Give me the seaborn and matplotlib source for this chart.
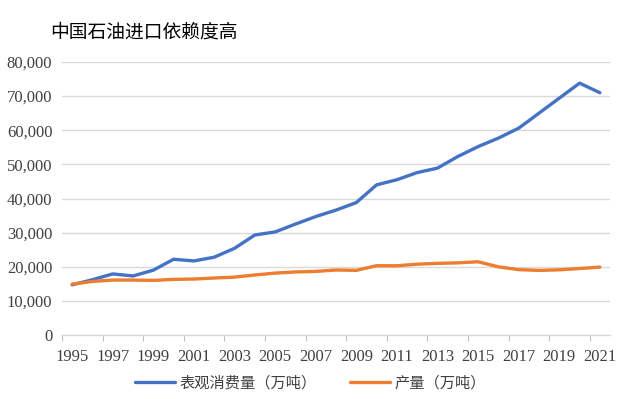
import seaborn as sns
import pandas as pd
import matplotlib.pyplot as plt
from matplotlib import font_manager
from matplotlib.ticker import FuncFormatter, FixedLocator

years = list(range(1995, 2022))
consumption = [14700, 16200, 17900, 17300, 19000, 22200, 21700, 22800, 25400, 29300,
               30200, 32500, 34700, 36600, 38800, 44000, 45500, 47600, 48900, 52300,
               55200, 57700, 60600, 65000, 69400, 73800, 71000]
production = [14900, 15700, 16100, 16100, 16000, 16300, 16400, 16700, 16960, 17590,
              18135, 18477, 18632, 19044, 18949, 20301, 20288, 20748, 20992, 21143,
              21456, 19969, 19151, 18932, 19101, 19477, 19898]
series_names = ["表观消费量（万吨）", "产量（万吨）"]
title = "中国石油进口依赖度高"

df = pd.DataFrame({
    "year": years * 2,
    "value": consumption + production,
    "series": [series_names[0]] * len(years) + [series_names[1]] * len(years),
})

sns.set_theme(style="white")
cjk = ['Noto Sans CJK SC', 'DejaVu Sans']
# pick a serif face for the numbers
names = {f.name for f in font_manager.fontManager.ttflist}
serif = next((n for n in ['Liberation Serif', 'Times New Roman', 'DejaVu Serif'] if n in names), 'serif')
plt.rcParams['font.family'] = cjk

fig = plt.figure(figsize=(6.21, 3.99), dpi=100)
ax = fig.add_axes([62 / 621, 1 - 335 / 399, 548 / 621, 273 / 399])

sns.lineplot(data=df, x="year", y="value", hue="series",
             palette=["#4472C4", "#ED7D31"], linewidth=2.4, ax=ax)

ax.set_xlim(1994.5, 2021.5)
ax.set_ylim(0, 80000)
ax.set_yticks(range(0, 80001, 10000))
ax.set_yticklabels([f"{v:,}" for v in range(0, 80001, 10000)], family=serif, fontsize=12, color="#404040")
ax.grid(axis="y", color="#d9d9d9", linewidth=1)
ax.set_axisbelow(True)

# category-style axis: ticks at boundaries, labels at centres
ax.xaxis.set_major_locator(FixedLocator([y - 0.5 for y in range(1995, 2022, 2)]))
ax.xaxis.set_major_formatter(FuncFormatter(lambda v, p: ""))
label_years = list(range(1995, 2022, 2))
ax.set_xticks(label_years, minor=True)
ax.set_xticklabels([str(y) for y in label_years], minor=True, family=serif, fontsize=12, color="#404040")
ax.tick_params(axis="x", which="major", length=4, width=0.8, color="#bfbfbf", direction="out", bottom=True)
ax.tick_params(axis="x", which="minor", length=0, pad=10)
ax.tick_params(axis="y", length=0, pad=7)

for s in ["top", "right", "left"]:
    ax.spines[s].set_visible(False)
ax.spines["bottom"].set_color("#d9d9d9")
ax.spines["bottom"].set_linewidth(1)

ax.set_xlabel("")
ax.set_ylabel("")

handles, labels = ax.get_legend_handles_labels()
ax.legend_.remove()
fig.legend(handles, labels, loc="center", bbox_to_anchor=(0.5, 1 - 383 / 399),
           ncol=2, frameon=False, prop={"family": cjk, "size": 11}, handlelength=2.6,
           columnspacing=2.2, handletextpad=0.3, labelcolor="#404040")

fig.text(50 / 621, 1 - 32 / 399, title, fontsize=13.5, family=cjk,
         va="center", ha="left", color="#000000")

fig.savefig("out.png", dpi=100)
